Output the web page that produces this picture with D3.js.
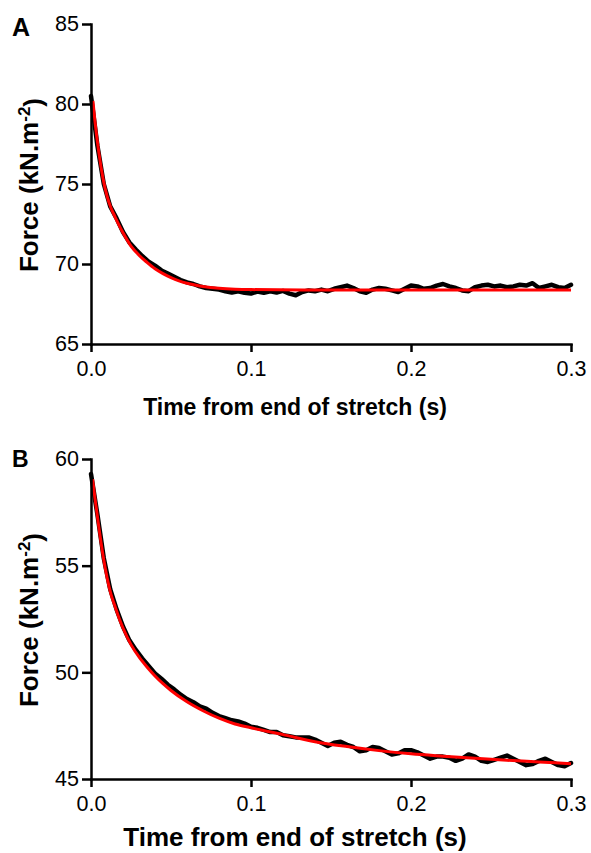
<!DOCTYPE html>
<html><head><meta charset="utf-8">
<script src="https://cdn.jsdelivr.net/npm/d3@7"></script>
<style>
body{margin:0;background:#fff}
svg{display:block}
text{font-family:"Liberation Sans",Arial,sans-serif}
</style>
</head><body>
<svg id="chart" width="591" height="853"></svg>
<script>
// ---- data ----
const xTickValues = [0, 0.1, 0.2, 0.3];
const xTickLabels = ["0.0", "0.1", "0.2", "0.3"];
const yTicksA = [65, 70, 75, 80, 85];
const yTicksB = [45, 50, 55, 60];

const traceTimes = [0,0.004,0.008,0.012,0.016,0.02,0.024,0.028,0.032,0.036,
0.04,0.044,0.048,0.052,0.056,0.06,0.064,0.068,0.072,0.076,
0.08,0.084,0.088,0.092,0.096,0.1,0.104,0.108,0.112,0.116,
0.12,0.124,0.128,0.132,0.136,0.14,0.144,0.148,0.152,0.156,
0.16,0.164,0.168,0.172,0.176,0.18,0.184,0.188,0.192,0.196,
0.2,0.204,0.208,0.212,0.216,0.22,0.224,0.228,0.232,0.236,
0.24,0.244,0.248,0.252,0.256,0.26,0.264,0.268,0.272,0.276,
0.28,0.284,0.288,0.292,0.296,0.3];

const traceA = [80.5,77.4,75.0,73.6,72.85,72.0,71.35,70.9,70.5,70.15,
69.9,69.6,69.4,69.2,69.0,68.85,68.75,68.6,68.5,68.45,
68.4,68.3,68.22,68.3,68.2,68.15,68.28,68.2,68.3,68.22,
68.32,68.15,68.05,68.25,68.35,68.3,68.4,68.3,68.45,68.55,
68.65,68.5,68.3,68.2,68.4,68.5,68.45,68.35,68.25,68.45,
68.65,68.6,68.45,68.5,68.65,68.75,68.6,68.5,68.35,68.3,
68.55,68.65,68.7,68.6,68.65,68.55,68.6,68.7,68.65,68.8,
68.5,68.6,68.7,68.55,68.5,68.7];

const traceB = [59.3,57.4,55.35,53.9,52.95,52.15,51.5,51.05,50.65,50.3,
49.95,49.7,49.42,49.2,48.95,48.75,48.6,48.4,48.3,48.1,
47.95,47.85,47.75,47.7,47.6,47.45,47.4,47.3,47.2,47.2,
47.05,47.0,46.95,46.95,46.95,46.85,46.7,46.55,46.7,46.75,
46.6,46.5,46.3,46.35,46.5,46.45,46.3,46.15,46.2,46.35,
46.35,46.25,46.1,45.95,46.05,46.05,46.0,45.85,45.95,46.15,
46.05,45.85,45.8,45.9,46.0,46.1,45.95,45.8,45.65,45.7,
45.85,45.95,45.8,45.65,45.6,45.75];

const fitTimesA = [0.0012,0.0025,0.005,0.0075,0.01,0.0125,0.015,0.0175,0.02,0.025,0.03,0.035,0.04,0.045,0.05,0.055,0.06,0.07,0.08,0.09,0.1,0.15,0.2,0.25,0.3];
const fitA = [80.2,78.9,76.9,75.35,74.25,73.5,72.95,72.43,71.95,71.12,70.55,70.1,69.7,69.4,69.15,68.95,68.8,68.6,68.48,68.42,68.4,68.38,68.38,68.38,68.38];

const fitTimesB = [0.001,0.0025,0.005,0.0075,0.01,0.0125,0.015,0.0175,0.02,0.025,0.03,0.035,0.04,0.045,0.05,0.06,0.07,0.08,0.09,0.1,0.12,0.14,0.16,0.18,0.2,0.22,0.24,0.26,0.28,0.3];
const fitB = [59.05,58.15,56.75,55.49,54.45,53.65,53.1,52.55,52.08,51.3,50.72,50.25,49.83,49.47,49.15,48.62,48.2,47.85,47.58,47.4,47.08,46.75,46.52,46.33,46.18,46.07,45.97,45.88,45.8,45.72];

const panels = [
  {letter:"A", yDomain:[65,85], yTicks:yTicksA, top:24, bottom:344, trace:traceA, fitT:fitTimesA, fit:fitA,
   xTitleY:415, xTitleSize:23, letterY:36, letterSize:25},
  {letter:"B", yDomain:[45,60], yTicks:yTicksB, top:459, bottom:779, trace:traceB, fitT:fitTimesB, fit:fitB,
   xTitleY:846, xTitleSize:26, letterY:467, letterSize:23}
];

const svg = d3.select("#chart");
const left = 91, right = 571;

panels.forEach(p => {
  const x = d3.scaleLinear().domain([0, 0.3]).range([left, right]);
  const y = d3.scaleLinear().domain(p.yDomain).range([p.bottom, p.top]);
  const g = svg.append("g");

  // data trace (black)
  const traceLine = d3.line().x((d,i)=>x(traceTimes[i])).y(d=>y(d)).curve(d3.curveLinear);
  g.append("path").datum(p.trace).attr("d", traceLine)
    .attr("fill","none").attr("stroke","#000").attr("stroke-width",4.5)
    .attr("stroke-linejoin","round").attr("stroke-linecap","round");

  // fit (red)
  const fitLine = d3.line().x((d,i)=>x(p.fitT[i])).y(d=>y(d)).curve(d3.curveMonotoneX);
  g.append("path").datum(p.fit).attr("d", fitLine)
    .attr("fill","none").attr("stroke","#ff0000").attr("stroke-width",3);

  // axes
  const xAxis = d3.axisBottom(x).tickValues(xTickValues).tickFormat((d,i)=>xTickLabels[i])
    .tickSize(8).tickSizeOuter(0).tickPadding(9);
  const yAxis = d3.axisLeft(y).tickValues(p.yTicks).tickFormat(d3.format("d"))
    .tickSize(9).tickSizeOuter(0).tickPadding(3);
  const gx = g.append("g").attr("transform",`translate(0,${p.bottom})`).call(xAxis);
  const gy = g.append("g").attr("transform",`translate(${left},0)`).call(yAxis);
  [gx, gy].forEach(a => {
    a.selectAll("path.domain").attr("stroke","#000").attr("stroke-width",2.5).attr("stroke-linecap","square");
    a.selectAll(".tick line").attr("stroke","#000").attr("stroke-width",2.5);
    a.selectAll(".tick text").attr("fill","#000").style("font-size","21.5px")
      .style("font-family","'Liberation Sans',Arial,sans-serif");
  });

  // x title
  g.append("text").attr("x",295).attr("y",p.xTitleY).attr("text-anchor","middle")
    .style("font-size",p.xTitleSize+"px").style("font-weight","bold").text("Time from end of stretch (s)");

  // y title
  const yc = (p.top + p.bottom)/2 + 1;
  const yt = g.append("text").attr("transform",`translate(38,${yc}) rotate(-90)`)
    .attr("text-anchor","middle").style("font-size","26px").style("font-weight","bold");
  yt.append("tspan").text("Force (kN.m");
  yt.append("tspan").attr("dy","-0.45em").style("font-size","17px").text("-2");
  yt.append("tspan").attr("dy","0.45em").text(")");

  // panel letter
  g.append("text").attr("x",12).attr("y",p.letterY).style("font-size",p.letterSize+"px")
    .style("font-weight","bold").text(p.letter);
});
</script>
</body></html>
